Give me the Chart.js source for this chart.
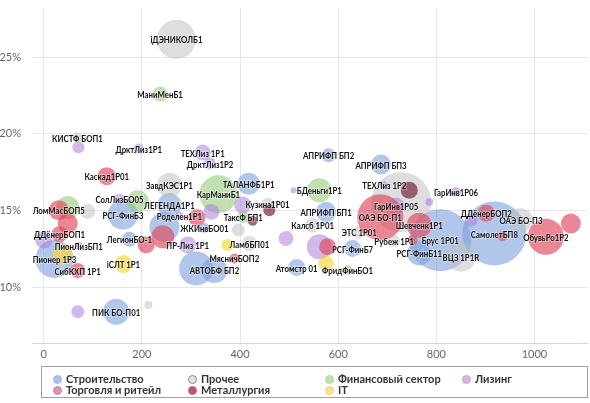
<!DOCTYPE html>
<html><head><meta charset="utf-8">
<script src="https://cdn.jsdelivr.net/npm/chart.js@4/dist/chart.umd.min.js"></script>
<style>
html,body{margin:0;padding:0;background:#fff;}
#wrap{position:relative;width:590px;height:403px;}
#legend{position:absolute;left:41px;top:366px;width:547px;height:32px;border:1px solid #a0a0a0;box-sizing:border-box;font:bold 11px Lato, sans-serif;color:#333;}
.item{position:absolute;white-space:nowrap;line-height:12px;}
.dot{position:absolute;width:9px;height:9px;border-radius:50%;box-sizing:border-box;border:1.5px solid;}
</style></head>
<body>
<div id="wrap"><canvas id="c" width="590" height="403"></canvas><div id="legend"></div></div>
<script>
// categories
const categories = ['Строительство','Прочее','Финансовый сектор','Лизинг','Торговля и ритейл','Металлургия','IT'];
// [x (volume), y (yield %), bubble size, label]
const construction = [
  [147.5,8.39,13,'ПИК БО-П01'],[174.5,13.13,7.5,'ЛегионБО-1'],[161.3,14.73,15,'РСГ-ФинБ3'],
  [21.8,11.83,19,'Пионер 1Р3'],[256,15.35,12,'ЛЕГЕНДА1Р1'],[245.8,13.91,15,''],
  [417.5,16.75,11,'ТАЛАНФБ1Р1'],[310.4,11.22,17,''],[347.7,11.11,13,'АВТОБФ БП2'],
  [515.3,11.28,8.5,'Атомстр 01'],[575.2,14.91,10,'АПРИФП БП1'],[580.4,18.6,7,'АПРИФП БП2'],
  [687.2,18.0,10,'АПРИФП БП3'],[629.3,12.52,8.5,'РСГ-ФинБ7'],[807.9,13.06,31,'Брус 1Р01'],
  [765.2,12.2,12,'РСГ-ФинБ11'],[918.2,13.5,32,'СамолетБП8'],[327.3,13.85,5,'ЖКИнвБО01']
];
const other = [
  [270.3,26.17,19.5,'iДЭНИКОЛБ1'],[68.6,19.76,5,'КИСТФ БОП1'],[256,16.65,12.5,'ЗавдКЭС1Р1'],
  [89.6,14.95,7.5,''],[213.2,8.83,4,''],[456,15.4,6.5,'Кузина1Р01'],[396.5,13.72,6.5,''],
  [419,12.84,7.5,'ЛамбБП01'],[547.9,14.04,7.5,'Калсб 1Р01'],[643,13.6,6,'ЭТС 1Р01'],
  [728.5,15.54,30,''],[714.2,13.0,6,'Рубеж 1Р1'],[850,11.98,15,'ВЦЗ 1Р1R'],[972.3,14.37,12,'ОАЭ БО-П3']
];
const finance = [
  [237,22.6,7.5,'МаниМенБ1'],[191.4,15.6,11,''],[48.9,15.2,11.5,''],[355.8,16.06,19,'КарМаниБ1'],
  [406.7,14.58,6,'ТаксФ БП1'],[561.5,16.32,12,'БДеньги1Р1'],[619.1,11.1,5,'ФридФинБО1']
];
const leasing = [
  [70.7,19.13,6,''],[193.5,19.04,5,'ДрктЛиз1Р1'],[323.8,18.78,8,'ТЕХЛиз 1Р1'],[338.9,18.06,6,'ДрктЛиз1Р2'],
  [154.2,15.74,5.5,'СолЛизБО05'],[0,13.06,8.5,''],[71.3,12.7,4,'ПионЛизБП1'],[69.2,8.39,6.5,''],
  [276.4,14.65,4,'Роделен1Р1'],[293.3,12.74,8.5,'ПР-Лиз 1Р1'],[341.5,14.91,8,''],[405.3,15.35,8.5,''],
  [509.2,16.32,3,''],[493.7,13.17,7.5,''],[561.5,12.63,12.5,''],[693.9,16.65,4,'ТЕХЛиз 1Р2'],
  [718,15.27,8.5,'ГарИнв1Р05'],[785.5,15.56,4,''],[840,16.21,5,'ГарИнв1Р06'],[870.5,14.37,6.5,'']
];
const retail = [
  [128.3,17.24,9,'Каскад1Р01'],[30.5,15.02,10,'ЛомМасБОП5'],[48.9,14.15,10,''],[32,13.45,8,'ДДёнерБОП1'],
  [69,11.08,7.5,'СибКХП 1Р1'],[208.6,12.74,8.5,''],[242.4,13.28,11.5,''],[312,14.53,8.5,''],
  [388.4,11.87,5,'МясничБОП2'],[578.4,12.63,8.5,''],[685.7,14.56,23,'ОАЭ БО-П1'],[765.2,14.04,12.5,'Шевченк1Р1'],
  [751.5,13.06,5,''],[901.6,14.82,8.5,'ДДёнерБОП2'],[934.8,13.32,5,''],[1023.2,13.28,18,'ОбувьРо1Р2'],[1074.1,14.15,10,'']
];
const metals = [
  [459.6,15.02,6,''],[425.7,14.33,5,''],[744.8,16.32,8.5,'']
];
const it = [
  [38.7,12.09,10,''],[162.3,11.5,9,'iСЛТ 1Р1'],[374.7,12.74,6,''],[575.2,11.55,7.5,'']
];
const xTicks = [0,200,400,600,800,1000];
const yTicks = [10,15,20,25];

const series = [construction, other, finance, leasing, retail, metals, it];
const fills = ['rgba(124,160,220,0.6)','rgba(190,190,190,0.5)','rgba(140,200,110,0.55)','rgba(170,130,220,0.55)','rgba(225,70,90,0.65)','rgba(120,40,60,0.7)','rgba(250,215,60,0.7)'];
const legendFill = ['#a9c3ea','#e2e2e2','#bfe2b0','#cdb8e8','#ec8f9c','#a8606e','#fbe28e'];
const legendBorder = ['#9ab8e6','#8a8a8a','#b0dca0','#e8a28a','#9b8ff0','#e05a6e','#f6d27a'];
const drawOrder = [6,5,4,3,2,1,0];

const datasets = series.map((s,i)=>({
  label: categories[i],
  data: s.map(p=>({x:p[0],y:p[1],r:p[2],name:p[3]})),
  backgroundColor: fills[i], borderWidth:0, hoverBorderWidth:0,
  order: drawOrder[i]
}));

const labelPlugin = {
  id:'bubbleLabels',
  afterDatasetsDraw(chart){
    const ctx = chart.ctx;
    chart.data.datasets.forEach((ds,i)=>{
      const meta = chart.getDatasetMeta(i);
      meta.data.forEach((el,j)=>{
        const n = ds.data[j].name; if(!n) return;
        ctx.save();
        ctx.font = 'bold 9.5px Lato, sans-serif'; ctx.textAlign='center'; ctx.textBaseline='middle';
        ctx.translate(el.x, el.y+1); ctx.scale(0.82,1);
        ctx.lineWidth=2; ctx.strokeStyle='rgba(255,255,255,0.35)'; ctx.strokeText(n, 0, 0);
        ctx.fillStyle='#111'; ctx.fillText(n, 0, 0);
        ctx.restore();
      });
    });
  }
};

new Chart(document.getElementById('c'), {
  type:'bubble',
  data:{datasets},
  plugins:[labelPlugin],
  options:{
    responsive:false, animation:false, devicePixelRatio:1,
    layout:{autoPadding:false,padding:{top:7.5,right:3,bottom:40,left:0}},
    plugins:{legend:{display:false},tooltip:{enabled:false}},
    scales:{
      x:{type:'linear',min:-24,max:1107,
        afterBuildTicks:a=>{a.ticks = xTicks.map(v=>({value:v}));},
        afterFit:a=>{a.height=20;a.paddingLeft=0;a.paddingRight=0;},
        grid:{color:'#e6e6e6',drawTicks:false},
        border:{color:'#ccd6eb',width:1},
        ticks:{color:'#666',font:{family:'Lato',size:11},padding:5,callback:v=>String(v)}},
      y:{type:'linear',min:6.35,max:28.25,
        afterBuildTicks:a=>{a.ticks = yTicks.map(v=>({value:v}));},
        afterFit:a=>{a.width=32;a.paddingTop=0;a.paddingBottom=0;},
        grid:{color:'#e6e6e6',drawTicks:false},
        border:{display:false},
        ticks:{color:'#666',font:{family:'Lato',size:11},padding:11,callback:v=>v+'%'}}
    }
  }
});

// legend
const lg = document.getElementById('legend');
const colX = [15,150,287,424];
const rowY = [6,17];
const legendOrder = [0,1,2,3,4,5,6];
legendOrder.forEach((ci,k)=>{
  const col = k%4, row = Math.floor(k/4);
  const d = document.createElement('span'); d.className='dot';
  d.style.left=(colX[col]-4.5+0)+'px'; d.style.top=(rowY[row]+1.5)+'px';
  d.style.background=legendFill[ci]; d.style.borderColor=legendBorder[ci];
  lg.appendChild(d);
  const t = document.createElement('span'); t.className='item';
  t.style.left=(colX[col]+9)+'px'; t.style.top=rowY[row]+'px'; t.textContent=categories[ci];
  lg.appendChild(t);
});
</script>
</body></html>
